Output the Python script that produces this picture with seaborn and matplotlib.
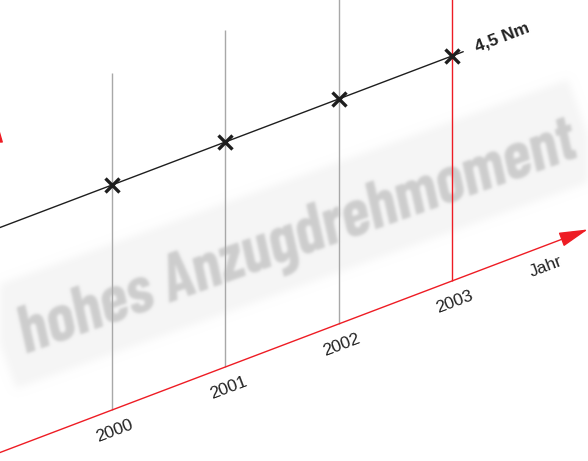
import numpy as np
import matplotlib
matplotlib.use("Agg")
import matplotlib.pyplot as plt
from matplotlib.transforms import Affine2D
from matplotlib.patches import Rectangle
import seaborn as sns

# Daten
jahre = [2000, 2001, 2002, 2003]
drehmoment = [4.5, 4.5, 4.5, 4.5]
jahr_labels = ["2000", "2001", "2002", "2003"]
wert_label = "4,5 Nm"
achse_label = "Jahr"
wasserzeichen = "hohes Anzugdrehmoment"

# Stil
sns.set_theme(style="white")
plt.rcParams["font.family"] = ["Liberation Sans", "DejaVu Sans"]
rot = "#ee1c24"
grau = "#a8a8a8"
schwarz = "#1e1e1e"


def weichzeichnen(sigma, farbe):
    # einfacher Gauss-Filter nur auf dem Alpha-Kanal
    rgb = matplotlib.colors.to_rgb(farbe)

    def f(img, dpi):
        r = int(3 * sigma)
        k = np.exp(-0.5 * (np.arange(-r, r + 1) / sigma) ** 2)
        k /= k.sum()
        a = np.pad(img[..., 3], ((r, r), (r, r)))
        b = np.zeros_like(a)
        for i, w in enumerate(k):
            b += w * np.roll(a, i - r, axis=0)
        c = np.zeros_like(b)
        for i, w in enumerate(k):
            c += w * np.roll(b, i - r, axis=1)
        out = np.zeros(c.shape + (4,), dtype=img.dtype)
        out[..., 0], out[..., 1], out[..., 2] = rgb
        out[..., 3] = c
        return out, -r, -r
    return f


fig = plt.figure(figsize=(5.88, 4.61), dpi=100)
ax = fig.add_axes([0, 0, 1, 1])
ax.set_xlim(0, 588)
ax.set_ylim(461, 0)
ax.axis("off")

# schraege Projektion (Jahr, Nm) -> Bildpunkte
px_jahr, py_jahr, py_nm = 113.3, -43.0, -50.0
x0, y0 = 112, 410
proj = Affine2D.from_values(px_jahr, py_jahr, 0, py_nm,
                            x0 - jahre[0] * px_jahr,
                            y0 - jahre[0] * py_jahr) + ax.transData

# Wasserzeichen mit hellem Band
band = Rectangle((-312, -52), 624, 104, facecolor="#f5f5f5", edgecolor="none",
                 transform=Affine2D().rotate_deg(-19.8).translate(292, 234) + ax.transData,
                 zorder=0)
ax.add_patch(band)
band.set_agg_filter(weichzeichnen(4, "#f5f5f5"))

wz = ax.text(298, 240, wasserzeichen, fontsize=47.5, fontweight="bold", fontstyle="italic",
             family=["Barlow Condensed", "Liberation Sans"], color="#cdcdcd",
             ha="center", va="center", rotation=19.6, rotation_mode="anchor", zorder=1)
wz.set_agg_filter(weichzeichnen(1.4, "#cdcdcd"))

# senkrechte Linien je Jahr
ax.vlines(jahre, 0, 6.75, transform=proj, colors=[grau, grau, grau, rot], lw=1, zorder=2)

# Achsen
pfeil = dict(arrowstyle="-|>,head_length=0.9,head_width=0.23", mutation_scale=20,
             color=rot, lw=1, shrinkA=0, shrinkB=0)
ax.annotate("", xy=(2004.2, 0), xytext=(1998.9, 0), xycoords=proj, textcoords=proj,
            arrowprops=pfeil, zorder=3)
pfeil_y = dict(pfeil, arrowstyle="-|>,head_length=1.0,head_width=0.29")
ax.annotate("", xy=(1998.96, 6.86), xytext=(1998.96, 0), xycoords=proj, textcoords=proj,
            arrowprops=pfeil_y, zorder=3)

# Datenlinie
ax.plot([jahre[0] - 1.05, jahre[0]], [drehmoment[0]] * 2, transform=proj,
        color=schwarz, lw=1, zorder=4)
ax.plot([jahre[-1], jahre[-1] + 0.1], [drehmoment[-1]] * 2, transform=proj,
        color=schwarz, lw=1, zorder=4)
sns.lineplot(x=jahre, y=drehmoment, ax=ax, transform=proj, color=schwarz, lw=1,
             marker="x", markersize=9.5, markeredgewidth=2.4, markeredgecolor=schwarz,
             zorder=5)
ax.set_xlim(0, 588)
ax.set_ylim(461, 0)
ax.axis("off")

# Beschriftungen
for j, lab in zip(jahre, jahr_labels):
    ax.annotate(lab, xy=(j, 0), xycoords=proj, xytext=(3, -21), textcoords="offset pixels",
                ha="center", va="center", rotation=20.8, rotation_mode="anchor",
                fontsize=12.5, color="#222222")
ax.annotate(achse_label, xy=(2003.83, 0), xycoords=proj, xytext=(0, -21),
            textcoords="offset pixels", ha="center", va="center", rotation=20.8,
            rotation_mode="anchor", fontsize=12.5, color="#222222")
ax.annotate(wert_label, xy=(2003.44, drehmoment[-1]), xycoords=proj, ha="center",
            va="center", rotation=21, rotation_mode="anchor", fontsize=12.5,
            fontweight="bold", color="#222222")

plt.savefig("out.png", dpi=100)
